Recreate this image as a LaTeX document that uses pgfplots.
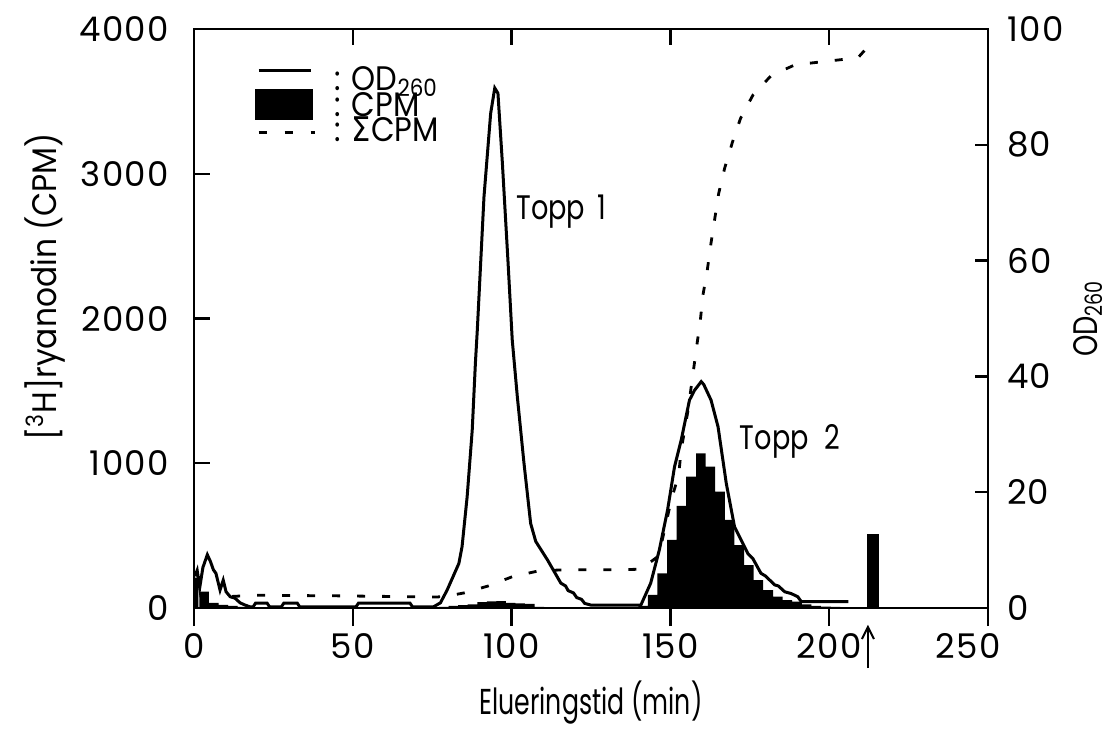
\documentclass[border=0pt]{standalone}
\usepackage{fontspec}
\setmainfont{Poppins}
\newfontfamily\txt[FakeStretch=0.8]{Poppins}
\newfontfamily\xlab[FakeStretch=0.7]{Poppins}
\newfontfamily\ylab[FakeStretch=0.92]{Poppins}
\newfontfamily\lgd[FakeStretch=0.9]{Poppins}
\newfontfamily\tickf[LetterSpace=4]{Poppins}
\newfontfamily\dejavu[FakeStretch=0.9]{DejaVu Sans}
\usepackage{pgfplots}
\pgfplotsset{compat=1.18}
\usetikzlibrary{calc,arrows.meta}

\begin{document}
\begin{tikzpicture}[font=\fontsize{13}{15}\selectfont]
\pgfplotsset{
  base/.style={scale only axis, width=397pt, height=289.5pt, xmin=0, xmax=250,
    /pgf/number format/assume math mode=true, /pgf/number format/1000 sep={},
    axis line style={line width=1.2pt},
    every tick/.style={line width=1.2pt, black},
    tick label style={font=\tickf\fontsize{17}{19}\selectfont}},
}
% ---------------- left axis: CPM bars, legend, top ticks
\begin{axis}[base, ymin=0, ymax=4000,
  ytick={0,1000,...,4000}, xtick={0,50,...,250},
  xtick pos=right, ytick pos=left, tick align=inside, major tick length=8pt,
  xticklabels={},
  yticklabel style={xshift=-9pt},
  ylabel={[\textsuperscript{3}H]ryanodin (CPM)},
  ylabel style={font=\ylab\fontsize{17}{19}\selectfont, at={(axis description cs:-0.188,0.555)}, anchor=center, rotate=0},
  legend cell align=left,
  legend style={draw=none, fill=none, at={(axis description cs:0.081,0.935)}, anchor=north west,
    row sep=0pt, inner sep=0pt,
    nodes={inner sep=0.85pt, text height=11pt, text depth=0pt, font=\lgd\fontsize{17}{19}\selectfont}},
]
\coordinate (SW) at (rel axis cs:0,0);
\coordinate (NE) at (rel axis cs:1,1);
\addlegendimage{legend image code/.code={\path[draw=none,fill=none] (0pt,0pt) rectangle (27pt,1pt);
  \begin{pgfinterruptboundingbox}\draw[line width=1.5pt] (0pt,4.5pt) -- (26pt,4.5pt);\end{pgfinterruptboundingbox}}}
\addlegendentry{\hspace*{10pt}: OD\textsubscript{260}}
\addlegendimage{legend image code/.code={\path[draw=none,fill=none] (0pt,0pt) rectangle (27pt,1pt);
  \begin{pgfinterruptboundingbox}\fill[black] (-1.5pt,-7pt) rectangle (27pt,8pt);\end{pgfinterruptboundingbox}}}
\addlegendentry{\hspace*{10pt}: CPM}
\addlegendimage{legend image code/.code={\path[draw=none,fill=none] (0pt,0pt) rectangle (27pt,1pt);
  \begin{pgfinterruptboundingbox}\draw[line width=1.5pt, dash pattern=on 4pt off 9pt] (0pt,-1pt) -- (28pt,-1pt);\end{pgfinterruptboundingbox}}}
\addlegendentry{\hspace*{10pt}: {\dejavu Σ}CPM}
% CPM fractions
\addplot[ybar, bar width=3.03, bar shift=0pt, fill=black, draw=none, forget plot] coordinates {
 (-0.1,210) (3.2,113) (6.2,35) (9.2,22) (12.2,14) (15.2,8)
 (78.7,8) (81.7,15) (84.7,20) (87.7,25) (90.7,40) (93.7,45) (96.7,48)
 (99.7,35) (102.7,32) (105.7,28) (108.7,8)
 (141.4,15) (144.4,90) (147.4,240) (150.5,470) (153.5,705) (156.5,907)
 (159.6,1069) (162.6,976) (165.6,804) (168.6,608) (171.7,435) (174.7,297)
 (177.7,193) (180.8,124) (183.8,78) (186.8,55) (189.9,44) (192.9,25)
 (195.9,15) (199.0,10) (202.0,8)
};
\addplot[ybar, bar width=3.6, bar shift=0pt, fill=black, draw=none, forget plot] coordinates {
 (213.8,509)
};
\end{axis}
% ---------------- bottom x axis with outward ticks
\begin{axis}[base, ymin=0, ymax=4000, axis x line*=bottom, hide y axis,
  xtick={0,50,...,200}, tick align=outside, major tick length=9pt,
  extra x ticks={250}, extra x tick style={xticklabel style={xshift=-10pt}},
  xlabel={Elueringstid (min)},
  xlabel style={font=\xlab\fontsize{18}{20}\selectfont, at={(axis description cs:0.5,-0.164)}, anchor=center},
]
\addplot[draw=none, forget plot] coordinates {(0,0) (250,0)};
\end{axis}
% ---------------- right axis: OD260 and cumulative CPM
\begin{axis}[base, ymin=0, ymax=100, axis y line*=right, hide x axis, clip=false,
  ytick={0,20,...,100}, tick align=inside, major tick length=6.5pt,
  yticklabel style={xshift=6pt},
  ylabel={OD\textsubscript{260}},
  ylabel style={font=\txt\fontsize{17}{19}\selectfont, at={(axis description cs:1.126,0.5)}, anchor=center, rotate=0},
]
% OD260
\addplot[line width=1.5pt, black] coordinates {
 (0.3,5.5) (1.0,6.5) (1.8,3.5) (2.8,7.0) (4.2,9.2) (5.2,8.0) (6.1,6.6) (6.9,6.0)
 (8.2,3.1) (9.2,4.8) (10.1,2.8) (11.4,1.95) (12.9,1.7) (14.5,0.9) (16.1,0.5)
 (17.7,0.2) (18.6,0.2) (19.4,0.85) (23.0,0.85) (23.8,0.2) (27.5,0.2) (28.3,0.85)
 (32.5,0.85) (33.3,0.2) (51.0,0.2) (51.8,0.85) (68.0,0.85) (68.8,0.2) (75.4,0.2)
 (77.6,0.9) (79.7,3.1) (83.4,7.7) (84.4,10.6) (86.0,19.2) (87.6,30.7) (88.6,42.3)
 (89.2,48) (91.3,71) (93.4,85.4) (94.7,89.8) (95.7,88.9) (97.1,76.8) (98.9,59.5)
 (100.2,46.3) (101.8,36.5) (103.9,25) (106.0,14.6) (107.6,11.5) (111.3,8.3)
 (115.5,4.3) (117.0,3.8) (117.8,3.0) (119.5,2.6) (120.5,1.8) (122.0,1.5)
 (123.0,0.8) (125.0,0.5) (140.7,0.5) (143.8,4.3) (146.5,10) (149.1,16.9)
 (151.3,24.4) (153.4,29) (156.0,35.9) (157.6,37.6) (159.7,39.1) (160.5,38.6)
 (162.8,35.9) (165.0,31.3) (167.6,21.5) (170.2,14) (174.4,9.4) (176.0,8.5)
 (178.5,6) (180.0,5.5) (182.8,4) (184.0,3.8) (186.0,2.8) (188.0,2.5)
 (190.1,1.95) (191.2,1.1) (206.0,1.1)
};
% cumulative CPM
\addplot[line width=1.4pt, black, dash pattern=on 4pt off 8.5pt] coordinates {
 (12,2.0) (19.2,2.2) (45,2.1) (76.6,1.9) (80,2.1) (85,2.6) (92.6,3.8) (100.2,5.4)
 (108.4,6.4) (116.6,6.6) (124.5,6.6) (132.8,6.6) (140.7,6.7) (146.3,9.0)
 (150.3,18.7) (152.6,23) (153.4,27.3) (155.5,34) (157.0,40) (158.3,45.3)
 (159.4,49.5) (160.2,53.9) (161.6,58.3) (162.7,62.7) (163.9,67) (165.2,71.6)
 (167.1,76) (169.5,80.4) (172.1,84.6) (176.0,88.6) (181.8,92) (189.2,93.8)
 (197.1,94.3) (205.3,94.8) (209.0,95) (211.3,96.4) (212.5,97.5)
};
\node[font=\txt\fontsize{17}{19}\selectfont] at (axis cs:115.6,68.4) {Topp\hspace{6pt}1};
\node[font=\txt\fontsize{17}{19}\selectfont] at (axis cs:187.7,28.7) {Topp\hspace{8pt}2};
\draw[-{Straight Barb[length=6pt,width=6pt]}, line width=1pt] (axis cs:212.2,-10.4) -- (axis cs:212.2,-2.9);
\end{axis}
\pgfresetboundingbox
\path[use as bounding box] ($(SW)+(-97pt,-60pt)$) rectangle ($(NE)+(64.5pt,14.5pt)$);
\end{tikzpicture}
\end{document}
